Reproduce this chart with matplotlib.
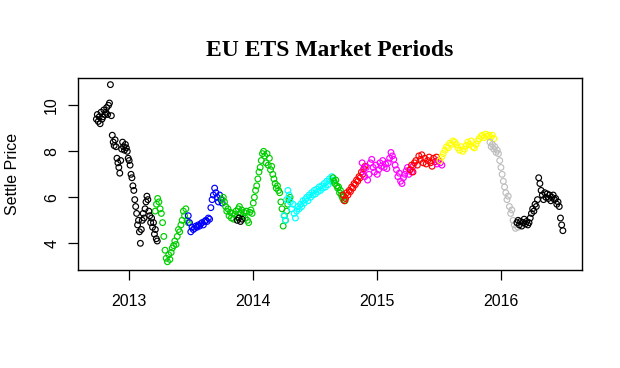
import numpy as np
import matplotlib
matplotlib.use("Agg")
import matplotlib.pyplot as plt

# ---- data (decimal years, settle prices) ----
seg_colors = ["black", "#00CD00", "#0000FF", "#00CD00", "black", "#00FFFF",
              "#00CD00", "#FF0000", "#FF00FF", "#FF0000", "#FF00FF",
              "#FFFF00", "#BEBEBE", "black"]
seg_start = [2012.738, 2013.212, 2013.478, 2013.751, 2013.872, 2014.250,
             2014.644, 2014.725, 2014.878, 2015.264, 2015.481,
             2015.505, 2015.908, 2016.125]
seg_end = [2013.228, 2013.478, 2013.751, 2014.298, 2013.912, 2014.644,
           2014.741, 2014.902, 2015.288, 2015.489, 2015.521,
           2015.940, 2016.133, 2016.495]

black1 = [9.4, 9.6, 9.3, 9.5, 9.2, 9.7, 9.4, 9.5, 9.8, 9.6, 9.7, 9.9, 9.6, 10.0, 10.1, 10.9, 9.55,
          8.7, 8.4, 8.25, 8.5, 8.2, 7.7, 7.5, 7.3, 7.05, 7.6, 8.1, 8.4, 8.2, 8.05, 8.3, 8.15, 8.0,
          7.7, 7.6, 7.4, 7.0, 6.85, 6.5, 6.3,
          5.9, 5.6, 5.3, 4.8, 5.0, 4.5, 4.0, 4.6, 5.0, 5.3, 5.1, 5.5, 5.8, 6.05, 5.9, 5.4, 5.2,
          4.9, 5.1, 4.7, 4.9, 4.4, 4.6, 4.2, 4.1]
green1 = [5.4, 5.7, 5.95, 5.8, 5.5, 5.3, 4.9, 4.3, 3.7, 3.35, 3.2, 3.5, 3.3, 3.6, 3.8, 3.9,
          4.1, 3.95, 4.3, 4.6, 4.5, 4.8, 5.0, 5.4, 5.2, 5.5, 5.0, 4.9]
blue1 = [5.2, 4.9, 4.5, 4.7, 4.6, 4.65, 4.75, 4.7, 4.8, 4.75, 4.85, 4.9, 4.8, 4.95, 5.0,
         4.95, 5.1, 5.05, 5.55, 5.9, 6.1, 6.4, 6.2, 6.0, 5.8, 6.1, 5.9, 5.75]
green2 = [5.9, 6.0, 5.8, 5.6, 5.4, 5.5, 5.2, 5.35, 5.1, 5.3, 5.05, 5.25, 5.4, 5.15, 5.5, 5.6,
          5.3, 5.45, 5.2, 5.35, 5.1, 5.4, 5.0, 4.9, 5.35, 5.45, 5.3,
          5.75, 6.0, 6.3, 6.5, 6.8, 7.1, 7.3, 7.6, 7.9, 8.0, 7.8,
          7.5, 7.9, 7.4, 7.7, 7.2, 7.35, 7.0, 6.8, 6.6, 6.4, 6.5, 6.3,
          6.2, 5.8, 5.5, 4.75, 5.2, 5.0, 5.4, 5.7, 5.9, 6.0]
black2 = [5.0, 5.1, 4.95, 5.05]
cyan1 = [5.2, 5.0, 5.9, 6.3, 6.1, 5.8, 5.5, 5.7, 5.3, 5.1, 5.4, 5.6, 5.5, 5.7, 5.6, 5.85,
         5.75, 5.9, 6.0, 5.85, 6.1, 6.0, 6.2, 6.1, 6.3, 6.15, 6.35, 6.25, 6.45, 6.3, 6.5,
         6.4, 6.6, 6.45, 6.7, 6.55, 6.8, 6.7, 6.9, 6.75]
green3 = [6.85, 6.7, 6.6, 6.75, 6.5, 6.4, 6.45, 6.2, 6.3, 6.1, 6.0, 5.9, 6.05, 5.85]
red1 = [6.1, 5.85, 5.95, 6.2, 6.1, 6.3, 6.25, 6.45, 6.4, 6.6, 6.55, 6.75, 6.7, 6.9, 6.85,
        7.1, 7.0, 7.25, 7.35]
magenta1 = [7.5, 7.2, 6.9, 7.3, 6.75, 7.0, 7.5, 7.65, 7.3, 7.1, 7.4, 7.0, 7.2, 7.5, 7.35,
            7.6, 7.3, 7.45, 7.25, 7.5, 7.7, 7.95, 7.8, 7.65, 7.4, 7.2, 6.9, 7.05, 6.7, 6.6,
            6.85, 7.0, 7.15, 7.3, 7.0, 7.2, 7.1, 7.35]
red2 = [7.2, 7.4, 7.1, 7.5, 7.6, 7.4, 7.8, 7.65, 7.85, 7.5, 7.7, 7.45, 7.6, 7.75, 7.5,
        7.35, 7.7, 7.55, 7.75, 7.6]
magenta2 = [7.45, 7.6, 7.5, 7.4]
yellow1 = [7.6, 7.75, 7.9, 8.05, 8.2, 8.15, 8.35, 8.3, 8.45, 8.4, 8.3, 8.15, 8.05, 8.2, 8.0,
           8.1, 8.25, 8.4, 8.3, 8.45, 8.2, 8.15, 8.3, 8.45, 8.55, 8.65, 8.7, 8.6, 8.75, 8.65,
           8.7, 8.6, 8.7, 8.55]
gray1 = [8.4, 8.2, 8.3, 8.1, 8.2, 7.95, 8.05, 7.9, 7.6, 7.3, 7.0, 6.7, 6.45, 6.2, 5.9, 6.05,
         5.6, 5.3, 5.45, 5.0, 4.8, 4.65, 4.9, 4.7]
black3 = [4.9, 5.0, 4.8, 4.95, 4.75, 4.9, 5.05, 4.85, 4.95, 4.8, 4.9, 5.1, 5.3, 5.5, 5.4,
          5.7, 5.6, 5.9, 6.85, 6.6, 6.3, 6.1, 5.9, 6.2, 6.0, 6.15, 5.95, 6.1, 5.85, 6.0, 6.1,
          5.9, 5.95, 5.7, 5.8, 5.6, 5.1, 4.8, 4.55]

seg_values = [black1, green1, blue1, green2, black2, cyan1, green3, red1, magenta1,
              red2, magenta2, yellow1, gray1, black3]

year_ticks = [2013, 2014, 2015, 2016]
year_labels = ["2013", "2014", "2015", "2016"]
price_ticks = [4, 6, 8, 10]

# ---- figure ----
fig = plt.figure(figsize=(6.2, 3.68), dpi=100)
ax = fig.add_axes([78 / 620, 1 - 270 / 368, (581.5 - 78) / 620, (270 - 77.5) / 368])

for col, s, e, vals in zip(seg_colors, seg_start, seg_end, seg_values):
    xs = np.linspace(s, e, len(vals))
    ax.scatter(xs, vals, s=17, facecolors="none", edgecolors=col, linewidths=0.85)

ax.set_xlim(2012.590, 2016.645)
ax.set_ylim(2.84, 11.21)

ax.set_xticks(year_ticks)
ax.set_xticklabels(year_labels)
ax.set_yticks(price_ticks)
ax.set_yticklabels([str(t) for t in price_ticks], rotation=90, va="center")

for sp in ax.spines.values():
    sp.set_linewidth(1.0)
ax.tick_params(axis="both", direction="out", length=7.5, width=0.9,
               labelsize=11.5)
ax.tick_params(axis="x", pad=10.0)
ax.tick_params(axis="y", pad=6.0)
for lab in ax.get_xticklabels() + ax.get_yticklabels():
    lab.set_fontfamily("Liberation Sans")

fig.text(12.5 / 620, 1 - 173.75 / 368, "Settle Price", rotation=90, ha="center",
         va="center", fontsize=11.5, family="Liberation Sans")
fig.text(329.8 / 620, 1 - 56 / 368, "EU ETS Market Periods", ha="center",
         va="baseline", fontsize=17, fontweight="bold", family="Liberation Serif")

fig.savefig("out.png", dpi=100)
